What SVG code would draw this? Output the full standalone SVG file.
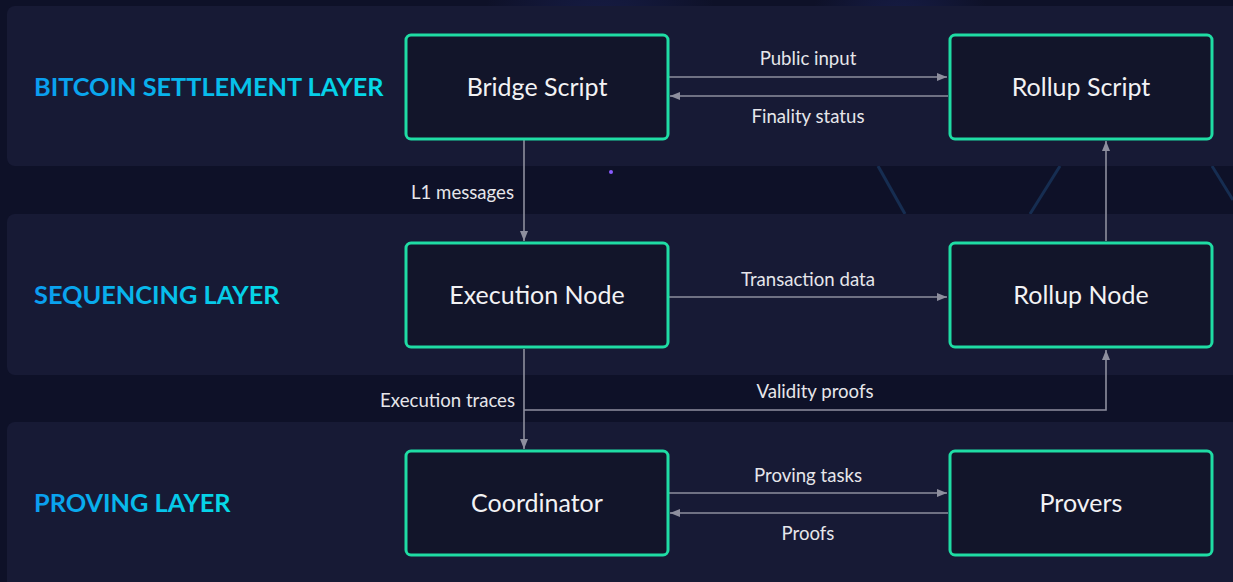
<svg xmlns="http://www.w3.org/2000/svg" width="1233" height="582" viewBox="0 0 1233 582">
<defs>
<linearGradient id="lbl" x1="0" y1="0" x2="1" y2="0">
<stop offset="0" stop-color="#0a9df0"/>
<stop offset="1" stop-color="#05dbe6"/>
</linearGradient>
<radialGradient id="glow" cx="0.5" cy="0.5" r="0.5">
<stop offset="0" stop-color="#25307a" stop-opacity="0.4"/>
<stop offset="1" stop-color="#25307a" stop-opacity="0"/>
</radialGradient>
<marker id="ah" viewBox="0 0 10 10" refX="10" refY="5" markerWidth="10" markerHeight="10" markerUnits="userSpaceOnUse" orient="auto">
<path d="M0,1 L10,5 L0,9 Z" fill="#8e8f9e"/>
</marker>
<style>
.panel{fill:#171a35;}
.node rect{fill:#12152a;stroke:#1fdca4;stroke-width:3;}
.node text{fill:#f2f2f4;font-family:Lato,"Open Sans",sans-serif;font-size:25px;text-anchor:middle;}
.layer{fill:url(#lbl);font-family:Lato,"Open Sans",sans-serif;font-weight:bold;font-size:25.3px;}
.conn line,.conn polyline{stroke:#8e8f9e;stroke-width:1.6;fill:none;}
.el{fill:#e6e6ea;font-family:Lato,"Open Sans",sans-serif;font-size:18.6px;}
.mid{text-anchor:middle;}
.end{text-anchor:end;}
.deco{stroke:#1d4a7a;stroke-width:3;opacity:0.5;fill:none;}
</style>
</defs>
<rect width="1233" height="582" fill="#0e1128"/>
<g id="background-decor">
<circle cx="600" cy="40" r="120" fill="url(#glow)"/>
<circle cx="900" cy="30" r="90" fill="url(#glow)"/>
<line class="deco" x1="878" y1="166" x2="905" y2="214"/>
<line class="deco" x1="1060" y1="166" x2="1030" y2="214"/>
<line class="deco" x1="1212" y1="166" x2="1233" y2="200"/>
<circle cx="611" cy="172" r="2" fill="#8a5cff"/>
</g>
<g id="layers">
<rect class="panel" x="7" y="6" width="1240" height="160" rx="8"/>
<rect class="panel" x="7" y="214" width="1240" height="161" rx="8"/>
<rect class="panel" x="7" y="422" width="1240" height="170" rx="8"/>
<text class="layer" x="34" y="96">BITCOIN SETTLEMENT LAYER</text>
<text class="layer" x="34" y="304">SEQUENCING LAYER</text>
<text class="layer" x="34" y="512">PROVING LAYER</text>
</g>
<g id="connectors" class="conn">
<line x1="669" y1="77" x2="947" y2="77" marker-end="url(#ah)"/>
<line x1="948" y1="96" x2="670" y2="96" marker-end="url(#ah)"/>
<line x1="524" y1="140" x2="524" y2="241" marker-end="url(#ah)"/>
<line x1="669" y1="297" x2="947" y2="297" marker-end="url(#ah)"/>
<line x1="1106" y1="241" x2="1106" y2="141" marker-end="url(#ah)"/>
<line x1="524" y1="349" x2="524" y2="449" marker-end="url(#ah)"/>
<polyline points="524,410 1106,410 1106,350" marker-end="url(#ah)"/>
<line x1="669" y1="493" x2="947" y2="493" marker-end="url(#ah)"/>
<line x1="948" y1="513" x2="670" y2="513" marker-end="url(#ah)"/>
<text class="el mid" x="808" y="65">Public input</text>
<text class="el mid" x="808" y="123">Finality status</text>
<text class="el" x="411" y="199">L1 messages</text>
<text class="el mid" x="808" y="286">Transaction data</text>
<text class="el end" x="515" y="407">Execution traces</text>
<text class="el mid" x="815" y="398">Validity proofs</text>
<text class="el mid" x="808" y="482">Proving tasks</text>
<text class="el mid" x="808" y="540">Proofs</text>
</g>
<g id="bridge-script" class="node">
<rect x="406" y="35" width="262" height="104" rx="5"/>
<text x="537" y="96">Bridge Script</text>
</g>
<g id="rollup-script" class="node">
<rect x="950" y="35" width="262" height="104" rx="5"/>
<text x="1081" y="96">Rollup Script</text>
</g>
<g id="execution-node" class="node">
<rect x="406" y="243" width="262" height="104" rx="5"/>
<text x="537" y="304">Execution Node</text>
</g>
<g id="rollup-node" class="node">
<rect x="950" y="243" width="262" height="104" rx="5"/>
<text x="1081" y="304">Rollup Node</text>
</g>
<g id="coordinator" class="node">
<rect x="406" y="451" width="262" height="104" rx="5"/>
<text x="537" y="512">Coordinator</text>
</g>
<g id="provers" class="node">
<rect x="950" y="451" width="262" height="104" rx="5"/>
<text x="1081" y="512">Provers</text>
</g>
</svg>
